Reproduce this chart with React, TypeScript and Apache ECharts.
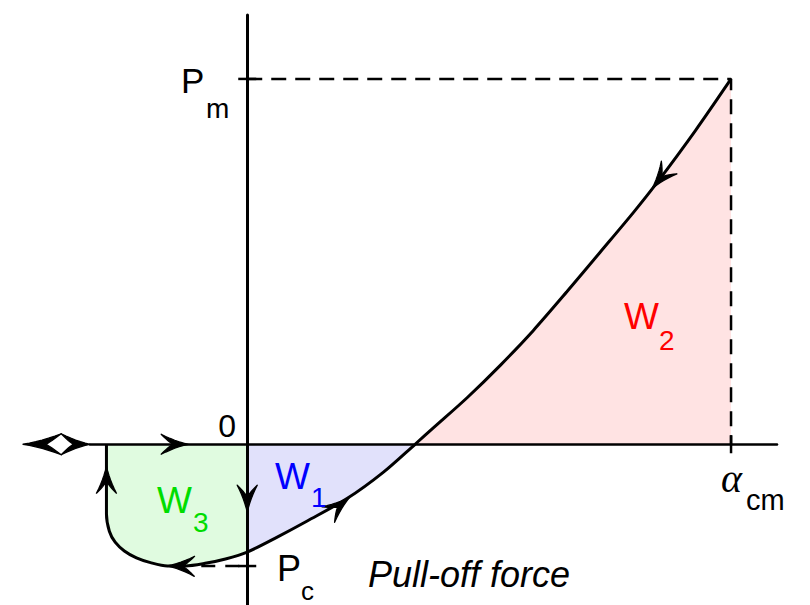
import React, { useEffect, useRef } from "react";
import * as echarts from "echarts";

// Force–displacement loop, normalised so that Pm = 1 and α_cm = 1
const pmValue = 1;
const pcValue = -1 / 3;
const alphaCm = 1;

// Unloading tail and snap-back part of the loop (region W3)
const loopX = [-0.291, -0.291, -0.291, -0.285, -0.273, -0.254, -0.229, -0.2, -0.165, -0.128, -0.087, -0.045, 0];
const loopY = [0, -0.096, -0.191, -0.238, -0.268, -0.292, -0.311, -0.324, -0.333, -0.333, -0.326, -0.314, -0.295];
// Adhesive branch below the axis (region W1)
const lowerX = [0, 0.062, 0.124, 0.207, 0.281, 0.347];
const lowerY = [-0.295, -0.254, -0.21, -0.148, -0.077, 0];
// Compressive branch up to the maximum load (region W2)
const upperX = [0.347, 0.384, 0.455, 0.523, 0.591, 0.661, 0.729, 0.798, 0.847, 0.926, 1];
const upperY = [0, 0.044, 0.128, 0.216, 0.311, 0.418, 0.525, 0.634, 0.716, 0.858, 1];

// Arrowheads: tip [x, y] and direction [dx, dy]
const arrowTips = [
  [0.837, 0.7, -0.05, -0.082],
  [0.211, -0.146, 0.07, 0.075],
  [-0.165, -0.333, -1, 0.02],
  [-0.291, -0.06, 0, 1],
  [-0.122, 0, 1, 0],
  [0, -0.186, 0, -1],
];
// Two-headed arrow closing the horizontal axis: [left tip x, right tip x]
const endArrow = [[-0.4634, -0.325]];
// Tick marks: [x, y, 0 = horizontal | 1 = vertical]
const tickMarks = [
  [0, pmValue, 0],
  [0, pcValue, 0],
  [alphaCm, 0, 1],
];

const pairs = (xs: number[], ys: number[]) => xs.map((x, i) => [x, ys[i]]);
const SMOOTH = 0.3;

// Concave arrowhead outline, tip at p, pointing along (ux, uy)
function arrowPoints(
  p: number[],
  ux: number,
  uy: number,
  L: number,
  W: number,
  notch: number
) {
  const nx = -uy;
  const ny = ux;
  const at = (a: number, b: number) => [p[0] + a * ux + b * nx, p[1] + a * uy + b * ny];
  const quad = (p0: number[], c: number[], p1: number[], n: number) => {
    const out: number[][] = [];
    for (let i = 1; i <= n; i++) {
      const t = i / n;
      const m = 1 - t;
      out.push([
        m * m * p0[0] + 2 * m * t * c[0] + t * t * p1[0],
        m * m * p0[1] + 2 * m * t * c[1] + t * t * p1[1],
      ]);
    }
    return out;
  };
  const tip = [0, 0];
  const b1 = [-L, W];
  const b2 = [-L, -W];
  const nt = [-notch * L, 0];
  const local: number[][] = [tip];
  local.push(...quad(tip, [-0.5 * L, 0.3 * W], b1, 6));
  local.push(...quad(b1, [-0.72 * L, 0.22 * W], nt, 6));
  local.push(...quad(nt, [-0.72 * L, -0.22 * W], b2, 6));
  local.push(...quad(b2, [-0.5 * L, -0.3 * W], tip, 6));
  return local.map(([a, b]) => at(a, b));
}

const ARROW_STYLE = { fill: "#000", stroke: "#000", lineWidth: 1.3, lineJoin: "round" };
const SANS = "'Liberation Sans', Arial, sans-serif";

function label(
  text: string,
  x: number,
  y: number,
  size: number,
  fill = "#000",
  extra: Record<string, unknown> = {}
) {
  return {
    type: "text",
    x,
    y,
    z: 20,
    silent: true,
    style: {
      text,
      fill,
      fontSize: size,
      fontFamily: SANS,
      align: "left",
      verticalAlign: "middle",
      ...extra,
    },
  };
}

export default function App() {
  const ref = useRef<HTMLDivElement>(null);

  useEffect(() => {
    if (!ref.current) return;
    const chart = echarts.init(ref.current, undefined, { renderer: "svg" });

    const fullCurve = [
      ...pairs(loopX, loopY),
      ...pairs(lowerX, lowerY).slice(1),
      ...pairs(upperX, upperY).slice(1),
    ];

    const fill = (xs: number[], ys: number[], color: string) => ({
      type: "line",
      data: pairs(xs, ys),
      smooth: SMOOTH,
      symbol: "none",
      silent: true,
      z: 1,
      lineStyle: { width: 0, opacity: 0 },
      areaStyle: { color, opacity: 1 },
    });

    const option = {
      animation: false,
      grid: { left: 90, right: 33, top: 15, bottom: 0 },
      xAxis: {
        type: "value",
        min: -0.325,
        max: 1.095,
        z: 5,
        axisLine: { onZero: true, lineStyle: { color: "#000", width: 2.5 } },
        axisTick: { show: false },
        axisLabel: { show: false },
        splitLine: { show: false },
      },
      yAxis: {
        type: "value",
        min: -0.44,
        max: 1.175,
        z: 5,
        axisLine: { onZero: true, lineStyle: { color: "#000", width: 3 } },
        axisTick: { show: false },
        axisLabel: { show: false },
        splitLine: { show: false },
      },
      series: [
        fill(loopX, loopY, "#e0fbe0"),
        fill(lowerX, lowerY, "#e1e1fb"),
        fill(upperX, upperY, "#ffe3e3"),
        {
          type: "line",
          data: [
            [0, pmValue],
            [alphaCm, pmValue],
            [alphaCm, 0],
          ],
          symbol: "none",
          silent: true,
          z: 4,
          lineStyle: { color: "#000", width: 2.5, type: [15, 9] },
        },
        {
          type: "line",
          data: [
            [-0.095, pcValue],
            [0, pcValue],
          ],
          symbol: "none",
          silent: true,
          z: 4,
          lineStyle: { color: "#000", width: 2.5, type: [14, 10] },
        },
        {
          type: "line",
          data: fullCurve,
          smooth: SMOOTH,
          symbol: "none",
          silent: true,
          z: 6,
          lineStyle: { color: "#000", width: 3 },
        },
        {
          type: "custom",
          data: tickMarks,
          clip: false,
          silent: true,
          z: 7,
          renderItem: (_p: unknown, api: any) => {
            const c = api.coord([api.value(0), api.value(1)]);
            const vertical = api.value(2) === 1;
            const h = 9;
            return {
              type: "line",
              shape: vertical
                ? { x1: c[0], y1: c[1] - h, x2: c[0], y2: c[1] + h }
                : { x1: c[0] - h, y1: c[1], x2: c[0] + h, y2: c[1] },
              style: { stroke: "#000", lineWidth: 2.5 },
            };
          },
        },
        {
          type: "custom",
          data: arrowTips,
          clip: false,
          silent: true,
          z: 8,
          renderItem: (_p: unknown, api: any) => {
            const x = api.value(0);
            const y = api.value(1);
            const p = api.coord([x, y]);
            const q = api.coord([x + api.value(2), y + api.value(3)]);
            let ux = q[0] - p[0];
            let uy = q[1] - p[1];
            const len = Math.hypot(ux, uy) || 1;
            ux /= len;
            uy /= len;
            return {
              type: "polygon",
              shape: { points: arrowPoints(p, ux, uy, 27, 10, 0.55) },
              style: ARROW_STYLE,
            };
          },
        },
        {
          type: "custom",
          data: endArrow,
          clip: false,
          silent: true,
          z: 8,
          renderItem: (_p: unknown, api: any) => {
            const pl = api.coord([api.value(0), 0]);
            const pr = api.coord([api.value(1), 0]);
            const mid = pl[0] + 0.57 * (pr[0] - pl[0]);
            return {
              type: "group",
              children: [
                {
                  type: "polygon",
                  shape: { points: arrowPoints(pl, -1, 0, mid - pl[0], 10.5, 0.6) },
                  style: ARROW_STYLE,
                },
                {
                  type: "polygon",
                  shape: { points: arrowPoints(pr, 1, 0, pr[0] - mid, 10.5, 0.58) },
                  style: ARROW_STYLE,
                },
              ],
            };
          },
        },
      ],
      graphic: [
        label("P", 181, 80, 35),
        label("m", 206, 108, 28),
        label("0", 236, 426, 32, "#000", { align: "right" }),
        label("α", 721, 478, 40, "#000", {
          fontFamily: "'Liberation Serif', 'DejaVu Serif', serif",
          fontStyle: "italic",
        }),
        label("cm", 746, 500, 29),
        label("W", 157, 500, 37, "#00dd00"),
        label("3", 193, 522, 28, "#00dd00"),
        label("W", 275, 476, 37, "#0000ff"),
        label("1", 311, 497, 28, "#0000ff"),
        label("W", 624, 316, 37, "#ff0000"),
        label("2", 659, 340, 28, "#ff0000"),
        label("P", 277, 568, 36),
        label("c", 301, 591, 26),
        label("Pull-off force", 368, 574, 36, "#000", { fontStyle: "italic" }),
      ],
    };

    chart.setOption(option as any);
    return () => chart.dispose();
  }, []);

  return (
    <div
      ref={ref}
      style={{ position: "absolute", left: 0, top: 0, width: 810, height: 605, background: "#fff" }}
    />
  );
}
